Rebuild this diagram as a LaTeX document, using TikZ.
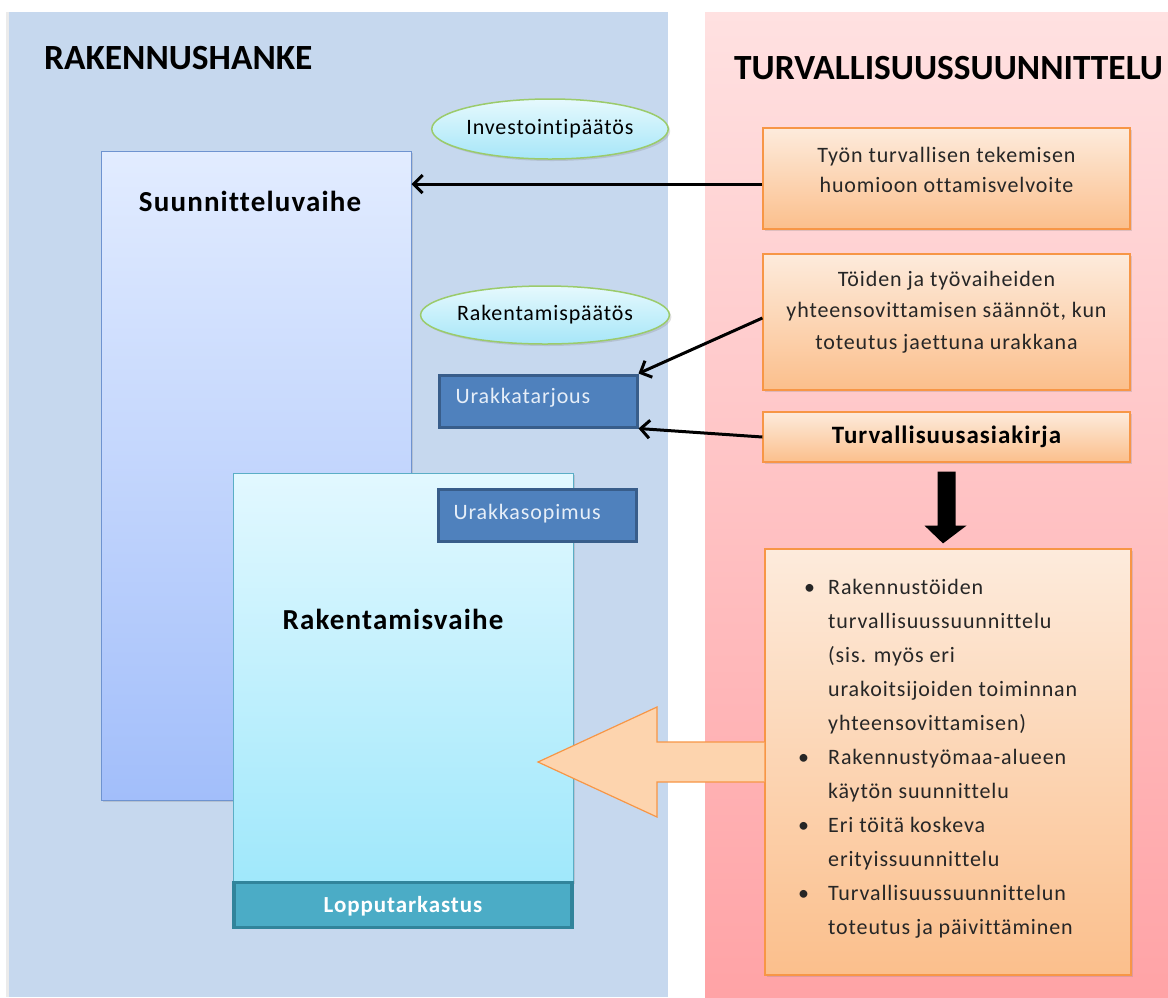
\documentclass[tikz,border=0pt]{standalone}
\usepackage{fontspec}
\setmainfont{Carlito}[Ligatures=NoCommon,LetterSpace=4]
\newfontfamily\headfont{Carlito}[Ligatures=NoCommon]
\usetikzlibrary{shapes.geometric,arrows.meta,shadows,calc}
\definecolor{panelL}{HTML}{C6D8EE}
\definecolor{panelRtop}{HTML}{FFE1E1}
\definecolor{panelRbot}{HTML}{FFA3A6}
\definecolor{orTop}{HTML}{FDEBDC}
\definecolor{orBot}{HTML}{FBBF8C}
\definecolor{orLine}{HTML}{F79646}
\definecolor{suTop}{HTML}{E2ECFF}
\definecolor{suBot}{HTML}{A2BEFA}
\definecolor{suLine}{HTML}{6E93D0}
\definecolor{raTop}{HTML}{E2F8FF}
\definecolor{raBot}{HTML}{A0E8FB}
\definecolor{raLine}{HTML}{5AAEC6}
\definecolor{ukFill}{HTML}{4F81BD}
\definecolor{ukLine}{HTML}{385D8A}
\definecolor{ukText}{HTML}{E6EEF8}
\definecolor{lpFill}{HTML}{4BACC6}
\definecolor{lpLine}{HTML}{31849B}
\definecolor{elTop}{HTML}{E6F9FD}
\definecolor{elBot}{HTML}{A6E6F8}
\definecolor{elLine}{HTML}{9BCB6B}
\definecolor{bigArr}{HTML}{FDD4AE}
\tikzset{
  softshadow/.style={drop shadow={opacity=0.25,shadow xshift=2pt,shadow yshift=-2pt}},
  orbox/.style={draw=orLine,line width=1.2pt,top color=orTop,bottom color=orBot,softshadow,inner sep=0pt},
  phase/.style={line width=1pt,inner sep=0pt,softshadow},
  ukbox/.style={draw=ukLine,line width=3pt,fill=ukFill,inner sep=0pt},
  decision/.style={ellipse,draw=elLine,line width=1.5pt,top color=elTop,bottom color=elBot,inner sep=0pt,softshadow},
  conn/.style={line width=3pt,-{Straight Barb[length=9pt,width=18pt]}},
  bodytxt/.style={font=\fontsize{22}{30}\selectfont,align=center,text=black!85},
  heading/.style={anchor=west,inner sep=0pt,font=\headfont\fontsize{35.4}{40}\bfseries\selectfont},
}
\begin{document}
\begin{tikzpicture}[x=1pt,y=-1pt]
\useasboundingbox (0,0) rectangle (1168,997);
\fill[white] (0,0) rectangle (1168,997);
% panels
\fill[black!8] (6,12) rectangle (668,997);
\node[fill=panelL,minimum width=659pt,minimum height=985pt,inner sep=0pt,anchor=north west] (pl) at (9,12) {};
\node[top color=panelRtop,bottom color=panelRbot,minimum width=463pt,minimum height=985pt,inner sep=0pt,anchor=north west] (pr) at (705,12) {};
\node[heading] (h1) at (44,58) {RAKENNUSHANKE};
\node[heading] (h2) at (734,68) {TURVALLISUUSSUUNNITTELU};
% phases
\node[phase,draw=suLine,top color=suTop,bottom color=suBot,minimum width=310pt,minimum height=649pt] (su) at (256,475.5) {};
\node[font=\fontsize{29}{32}\bfseries\selectfont] (sut) at (250,201) {Suunnitteluvaihe};
\node[phase,draw=raLine,top color=raTop,bottom color=raBot,minimum width=340pt,minimum height=409pt] (ra) at (403,677.5) {};
\node[font=\fontsize{29}{32}\bfseries\selectfont] (rat) at (393,619) {Rakentamisvaihe};
\node[draw=lpLine,line width=3.5pt,fill=lpFill,minimum width=338pt,minimum height=45pt,inner sep=0pt,font=\fontsize{23}{24}\bfseries\selectfont,text=white,text depth=1pt] (lp) at (403,905) {Lopputarkastus};
% decisions
\node[decision,minimum width=232pt,minimum height=60pt,font=\fontsize{22}{24}\selectfont] (inv) at (550,129) {Investointipäätös};
\node[decision,minimum width=234pt,minimum height=58pt,font=\fontsize{22}{24}\selectfont] (rak) at (545,315) {Rakentamispäätös};
% contracts
\node[ukbox,minimum width=198pt,minimum height=52pt] (ut) at (538,401) {};
\node[anchor=west,text=ukText,font=\fontsize{22}{24}\selectfont] (utt) at (452,398) {Urakkatarjous};
\node[ukbox,minimum width=198pt,minimum height=52pt] (us) at (537,515.5) {};
\node[anchor=west,text=ukText,font=\fontsize{22}{24}\selectfont] (ust) at (450,514) {Urakkasopimus};
% orange boxes
\node[orbox,minimum width=367pt,minimum height=101pt] (o1) at (946.5,178.5) {};
\node[bodytxt] (o1t) at (946.5,170) {Työn turvallisen tekemisen\\huomioon ottamisvelvoite};
\node[orbox,minimum width=367pt,minimum height=136pt] (o2) at (946.5,322) {};
\node[bodytxt,font=\fontsize{22}{31.5}\selectfont] (o2t) at (946.5,312) {Töiden ja työvaiheiden\\yhteensovittamisen säännöt, kun\\toteutus jaettuna urakkana};
\node[orbox,minimum width=367pt,minimum height=50pt,font=\fontsize{25}{28}\bfseries\selectfont] (o3) at (946.5,437) {Turvallisuusasiakirja};
\node[orbox,minimum width=366pt,minimum height=426pt] (o4) at (948,762) {};
% big block arrow
\fill[bigArr,draw=orLine,line width=1.2pt]
  (o4.west |- 0,742) -- (657,742) -- (657,707) -- (538,762) -- (657,817) -- (657,782) -- (o4.west |- 0,782);
\node[anchor=north west,align=left,inner sep=0pt,font=\fontsize{22}{34}\selectfont,text=black!85] (o4t) at (798,579) {%
\hbox to 30pt{\hspace{6pt}•\hfil}Rakennustöiden\\
\hspace{30pt}turvallisuussuunnittelu\\
\hspace{30pt}(sis. myös eri\\
\hspace{30pt}urakoitsijoiden toiminnan\\
\hspace{30pt}yhteensovittamisen)\\
\hbox to 30pt{•\hfil}Rakennustyömaa-alueen\\
\hspace{30pt}käytön suunnittelu\\
\hbox to 30pt{•\hfil}Eri töitä koskeva\\
\hspace{30pt}erityissuunnittelu\\
\hbox to 30pt{•\hfil}Turvallisuussuunnittelun\\
\hspace{30pt}toteutus ja päivittäminen};
% down arrow
\fill[black] ($(o3.south)+(-9,9)$) -- ($(o3.south)+(9,9)$) -- ($(o3.south)+(9,63)$) -- ($(o3.south)+(20,63)$)
  -- ($(o4.north)+(-5,-5)$) -- ($(o3.south)+(-22,63)$) -- ($(o3.south)+(-9,63)$) -- cycle;
% connectors
\draw[conn] (o1.west |- 0,184) -- (su.east |- 0,184);
\draw[conn] (o2.west |- 0,318) -- (ut.north east);
\draw[conn] (o3.west |- 0,437) -- (ut.south east);
\end{tikzpicture}
\end{document}
